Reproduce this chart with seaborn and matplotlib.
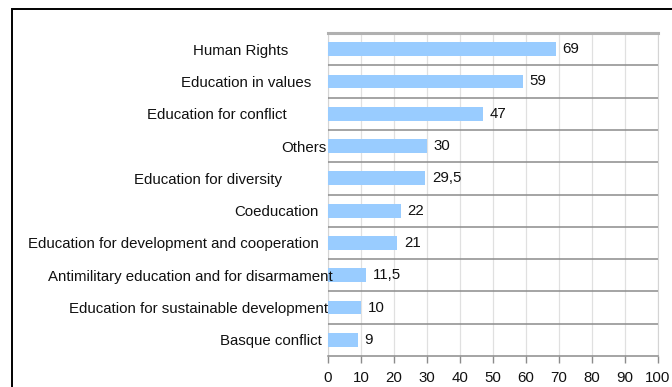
import matplotlib
matplotlib.use("Agg")
import matplotlib.pyplot as plt
from matplotlib.patches import Rectangle
import seaborn as sns
import pandas as pd
import numpy as np

# Topics and their scores
categories = [
    "Human Rights",
    "Education in values",
    "Education for conflict",
    "Others",
    "Education for diversity",
    "Coeducation",
    "Education for development and cooperation",
    "Antimilitary education and for disarmament",
    "Education for sustainable development",
    "Basque conflict",
]
values = [69, 59, 47, 30, 29.5, 22, 21, 11.5, 10, 9]
x_ticks = list(range(0, 101, 10))

# Gap (in pixels) between each category label and the axis
label_gaps_px = [40, 17, 41, 1, 46, 9, 9, -5, 0, 6]

sns.set_theme(style="white")
plt.rcParams["font.family"] = ["Liberation Sans", "DejaVu Sans"]

df = pd.DataFrame({"topic": categories, "score": values})

fig = plt.figure(figsize=(6.72, 3.87), dpi=100)
W, H = 672, 387
ax = fig.add_axes([328 / W, (H - 356) / H, 330 / W, 323 / H])

sns.barplot(data=df, x="score", y="topic", orient="h", color="#99CCFF",
            saturation=1, width=0.43, linewidth=0, ax=ax, zorder=3)

ax.set_xlim(0, 100)
ax.set_xticks(x_ticks)
ax.set_xticklabels([str(t) for t in x_ticks], fontsize=10.8, color="#111111")
ax.set_xlabel("")
ax.set_ylabel("")

# Category labels
ax.set_yticks(range(len(categories)))
ax.set_yticklabels(categories, fontsize=10.8, color="#111111")
ax.tick_params(axis="y", which="major", length=0)
for tick, gap in zip(ax.yaxis.get_major_ticks(), label_gaps_px):
    tick.set_pad(gap * 0.72)

# Bottom ticks
ax.tick_params(axis="x", which="major", direction="out", length=5,
               width=1, color="#8c8c8c", pad=6, bottom=True)

# Light vertical grid
ax.grid(axis="x", which="major", color="#e0e0e0", linewidth=0.9)
# Separators between categories
ax.set_yticks(np.arange(0.5, len(categories) - 1, 1.0), minor=True)
ax.tick_params(axis="y", which="minor", length=0)
ax.grid(axis="y", which="minor", color="#8c8c8c", linewidth=1.1)
ax.grid(axis="y", which="major", visible=False)
ax.set_axisbelow(True)
# Category labels sit on top of the bars where they overlap
ax.yaxis.set_zorder(4)

for side, col, lw in [("top", "#b0b0b0", 2.2), ("bottom", "#8c8c8c", 1.1),
                      ("left", "#d4d4d4", 0.8), ("right", "#d4d4d4", 0.8)]:
    ax.spines[side].set_visible(True)
    ax.spines[side].set_color(col)
    ax.spines[side].set_linewidth(lw)

# Value labels with decimal comma
labels = [f"{v:g}".replace(".", ",") for v in values]
ax.bar_label(ax.containers[0], labels=labels, padding=5, fontsize=10.8,
             color="#111111")

# Outer chart frame
fig.patches.append(Rectangle((12 / W, -0.05), 1.2, 1 - 9 / H + 0.05,
                             transform=fig.transFigure, fill=False,
                             edgecolor="black", linewidth=1.4))

fig.savefig("out.png", dpi=100)
